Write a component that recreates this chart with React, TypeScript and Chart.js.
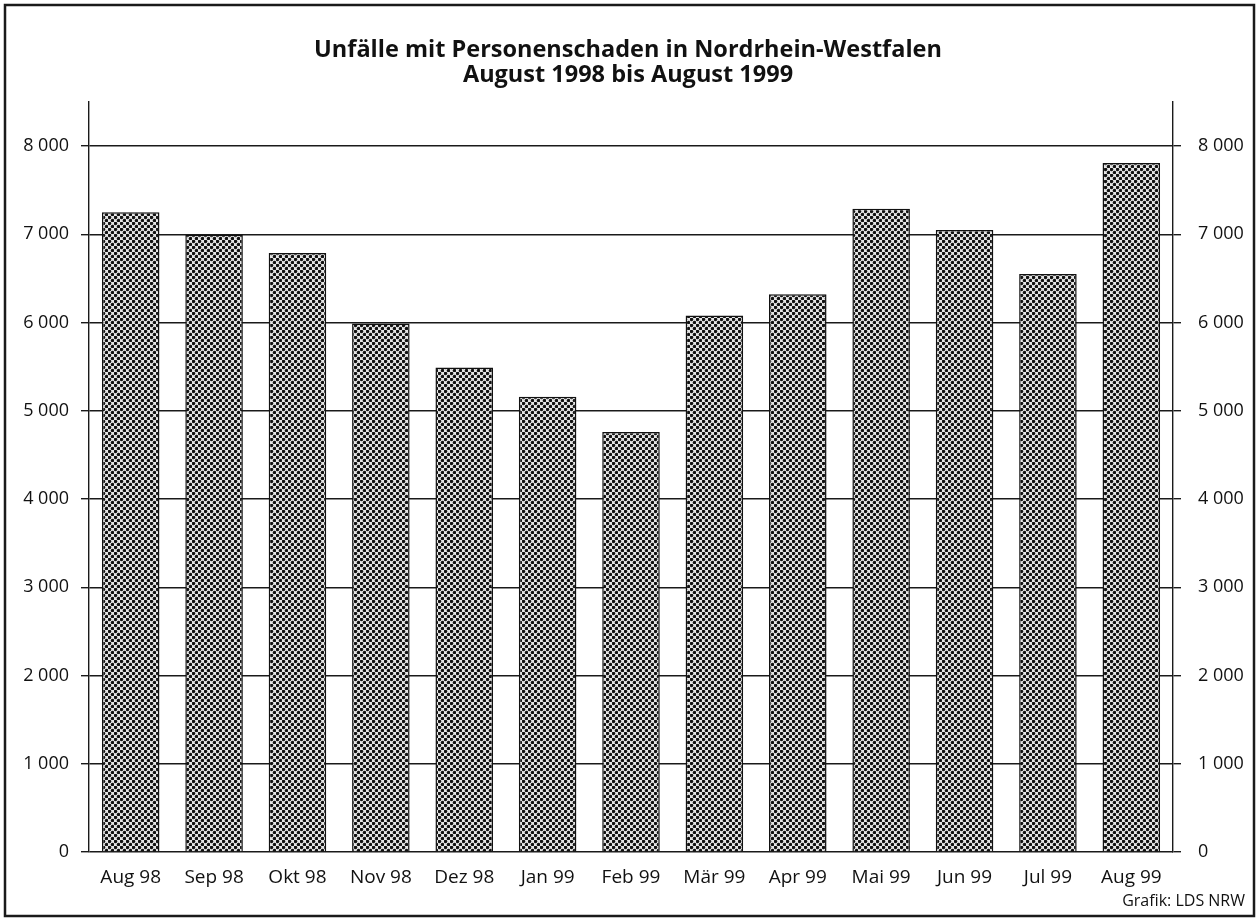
import React, { useEffect, useRef } from 'react';
import { Chart, registerables } from 'chart.js';

Chart.register(...registerables);

const categories = ['Aug 98', 'Sep 98', 'Okt 98', 'Nov 98', 'Dez 98', 'Jan 99', 'Feb 99', 'Mär 99', 'Apr 99', 'Mai 99', 'Jun 99', 'Jul 99', 'Aug 99'];
const accidents = [7250, 6995, 6790, 5990, 5490, 5160, 4760, 6080, 6320, 7290, 7050, 6550, 7810];
const yTickValues = [0, 1000, 2000, 3000, 4000, 5000, 6000, 7000, 8000];
const titleLines = ['Unfälle mit Personenschaden in Nordrhein-Westfalen', 'August 1998 bis August 1999'];
const sourceNote = 'Grafik: LDS NRW';

const FONT = "'Open Sans', 'Noto Sans', sans-serif";
const INK = '#111111';

function formatTick(v: number): string {
  if (v === 0) return '0';
  const th = Math.floor(v / 1000);
  const rest = String(v % 1000).padStart(3, '0');
  return `${th} ${rest}`;
}

function makePattern(): CanvasPattern | string {
  const c = document.createElement('canvas');
  c.width = 6;
  c.height = 6;
  const g = c.getContext('2d');
  if (!g) return '#888';
  g.fillStyle = '#e6e6e6';
  g.fillRect(0, 0, 6, 6);
  g.fillStyle = '#111111';
  g.beginPath();
  g.arc(1.5, 1.5, 1.75, 0, Math.PI * 2);
  g.fill();
  g.beginPath();
  g.arc(4.5, 4.5, 1.75, 0, Math.PI * 2);
  g.fill();
  const p = g.createPattern(c, 'repeat');
  return p || '#888';
}

const decorPlugin = {
  id: 'decor',
  afterDraw(chart: any) {
    const ctx = chart.ctx as CanvasRenderingContext2D;
    ctx.save();
    ctx.fillStyle = INK;
    ctx.textAlign = 'center';
    ctx.textBaseline = 'alphabetic';
    ctx.font = `bold 23.5px ${FONT}`;
    ctx.fillText(titleLines[0], 628, 57);
    ctx.fillText(titleLines[1], 628, 82);
    ctx.font = `16px ${FONT}`;
    ctx.textAlign = 'right';
    ctx.fillText(sourceNote, 1245, 906);
    ctx.strokeStyle = '#1a1a1a';
    ctx.lineWidth = 2.5;
    ctx.strokeRect(5, 5, 1249, 911);
    ctx.restore();
  },
};

export default function App() {
  const ref = useRef<HTMLCanvasElement | null>(null);

  useEffect(() => {
    if (!ref.current) return;
    const pattern = makePattern();
    const setTicks = (scale: any) => {
      scale.ticks = yTickValues.map((v) => ({ value: v }));
    };
    const chart = new Chart(ref.current, {
      type: 'bar',
      data: {
        labels: categories,
        datasets: [
          {
            data: accidents,
            backgroundColor: pattern as any,
            borderColor: INK,
            borderWidth: 1.5,
            borderSkipped: 'start',
            categoryPercentage: 1,
            barPercentage: 0.69,
            yAxisID: 'y',
          },
        ],
      },
      options: {
        responsive: false,
        animation: false,
        events: [],
        layout: { padding: { top: 102, left: 0, right: 0, bottom: 0 } },
        plugins: {
          legend: { display: false },
          title: { display: false },
          tooltip: { enabled: false },
        },
        scales: {
          x: {
            grid: { display: false, drawTicks: false },
            border: { display: false },
            ticks: {
              color: INK,
              font: { family: FONT, size: 19 },
              padding: 14,
              maxRotation: 0,
              autoSkip: false,
            },
            afterFit: (s: any) => {
              s.height = 68;
            },
          },
          y: {
            position: 'left',
            min: 0,
            max: 8500,
            ticks: {
              color: INK,
              font: { family: FONT, size: 18 },
              padding: 12,
              autoSkip: false,
              callback: (v: any) => formatTick(Number(v)),
            },
            grid: { color: '#1a1a1a', lineWidth: 1.4, tickLength: 8, drawTicks: true },
            border: { display: true, color: '#1a1a1a', width: 1.4 },
            afterBuildTicks: setTicks,
            afterFit: (s: any) => {
              s.width = 89;
            },
          },
          y2: {
            position: 'right',
            min: 0,
            max: 8500,
            ticks: {
              color: INK,
              font: { family: FONT, size: 18 },
              padding: 17,
              autoSkip: false,
              callback: (v: any) => formatTick(Number(v)),
            },
            grid: { color: '#1a1a1a', lineWidth: 1.4, tickLength: 8, drawTicks: true, drawOnChartArea: false },
            border: { display: true, color: '#1a1a1a', width: 1.4 },
            afterBuildTicks: setTicks,
            afterFit: (s: any) => {
              s.width = 84;
            },
          },
        },
      },
      plugins: [decorPlugin],
    });
    return () => chart.destroy();
  }, []);

  return (
    <div style={{ position: 'absolute', left: 0, top: 0, width: 1257, height: 920, background: '#ffffff' }}>
      <canvas ref={ref} width={1257} height={920} style={{ display: 'block', width: 1257, height: 920 }} />
    </div>
  );
}
